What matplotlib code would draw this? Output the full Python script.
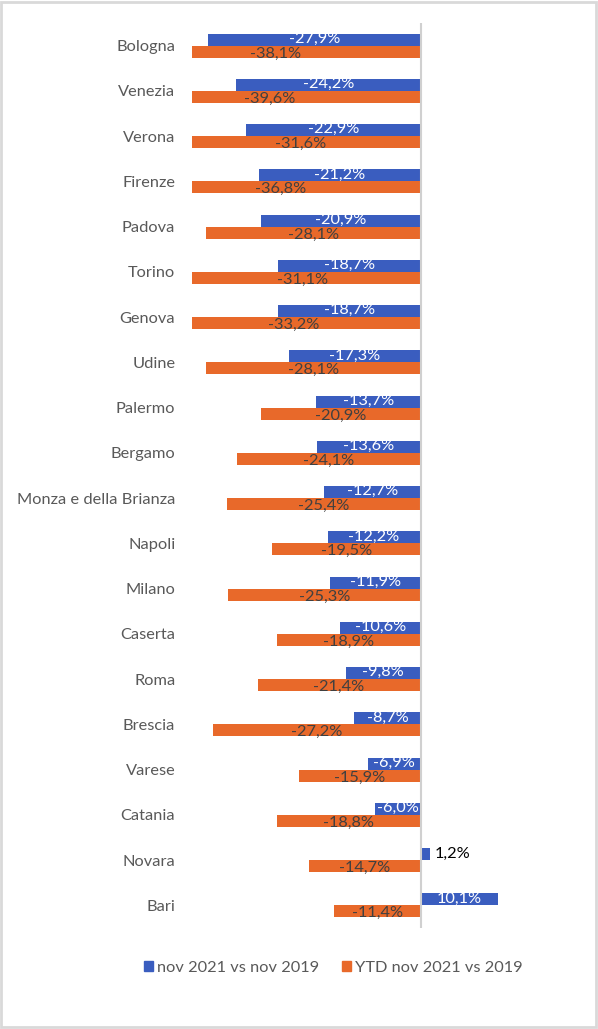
import matplotlib
matplotlib.use("Agg")
import matplotlib.pyplot as plt
from matplotlib.patches import Rectangle, Patch

plt.rcParams['font.family'] = ['Lato', 'DejaVu Sans']

cities = ["Bologna", "Venezia", "Verona", "Firenze", "Padova", "Torino", "Genova",
          "Udine", "Palermo", "Bergamo", "Monza e della Brianza", "Napoli", "Milano",
          "Caserta", "Roma", "Brescia", "Varese", "Catania", "Novara", "Bari"]
nov_vs_nov = [-27.9, -24.2, -22.9, -21.2, -20.9, -18.7, -18.7, -17.3, -13.7, -13.6,
              -12.7, -12.2, -11.9, -10.6, -9.8, -8.7, -6.9, -6.0, 1.2, 10.1]
ytd_vs_2019 = [-38.1, -39.6, -31.6, -36.8, -28.1, -31.1, -33.2, -28.1, -20.9, -24.1,
               -25.4, -19.5, -25.3, -18.9, -21.4, -27.2, -15.9, -18.8, -14.7, -11.4]
series_names = ["nov 2021 vs nov 2019", "YTD nov 2021 vs 2019"]

blue = '#3a5dbf'
orange = '#e8692a'
W, H = 598, 1029
fig = plt.figure(figsize=(W / 100, H / 100), dpi=100)
ax = fig.add_axes([192 / W, 1 - 928 / H, (573 - 192) / W, (928 - 23) / H])

h = 0.265
ys = list(range(len(cities)))
ax.barh([y - h / 2 for y in ys], nov_vs_nov, height=h, color=blue)
ax.barh([y + h / 2 for y in ys], ytd_vs_2019, height=h, color=orange)

ax.set_xlim(-30, 20)
ax.set_ylim(len(cities) - 0.5, -0.5)
ax.axvline(0, color='#d0d0d0', lw=1.5)

fs = 11.8
def fmt(v):
    return f"{v:.1f}%".replace('.', ',')

for y, v in zip(ys, nov_vs_nov):
    if abs(v) < 3:
        ax.text(v + 0.6, y - h / 2, fmt(v), ha='left', va='center', color='black', fontsize=fs)
    else:
        ax.text(v / 2, y - h / 2 - 0.02, fmt(v), ha='center', va='center', color='white', fontsize=fs)
for y, v in zip(ys, ytd_vs_2019):
    ax.text(v / 2, y + h / 2 + 0.04, fmt(v), ha='center', va='center', color='#404040', fontsize=fs)

ax.set_yticks(ys)
ax.set_yticklabels(cities, color='#595959', fontsize=fs)
ax.tick_params(axis='y', length=0, pad=12)
ax.set_xticks([])
for s in ax.spines.values():
    s.set_visible(False)

handles = [Patch(color=blue), Patch(color=orange)]
fig.legend(handles, series_names, loc='center', ncol=2, frameon=False,
           bbox_to_anchor=(333 / W, 1 - 968 / H), handlelength=0.55, handleheight=0.55,
           handletextpad=0.25, columnspacing=1.4, labelcolor='#595959', fontsize=fs)

fig.add_artist(Rectangle((0.002, 0.002), 0.995, 0.996, transform=fig.transFigure,
                         fill=False, edgecolor='#d9d9d9', lw=2))
fig.savefig('out.png', dpi=100)
